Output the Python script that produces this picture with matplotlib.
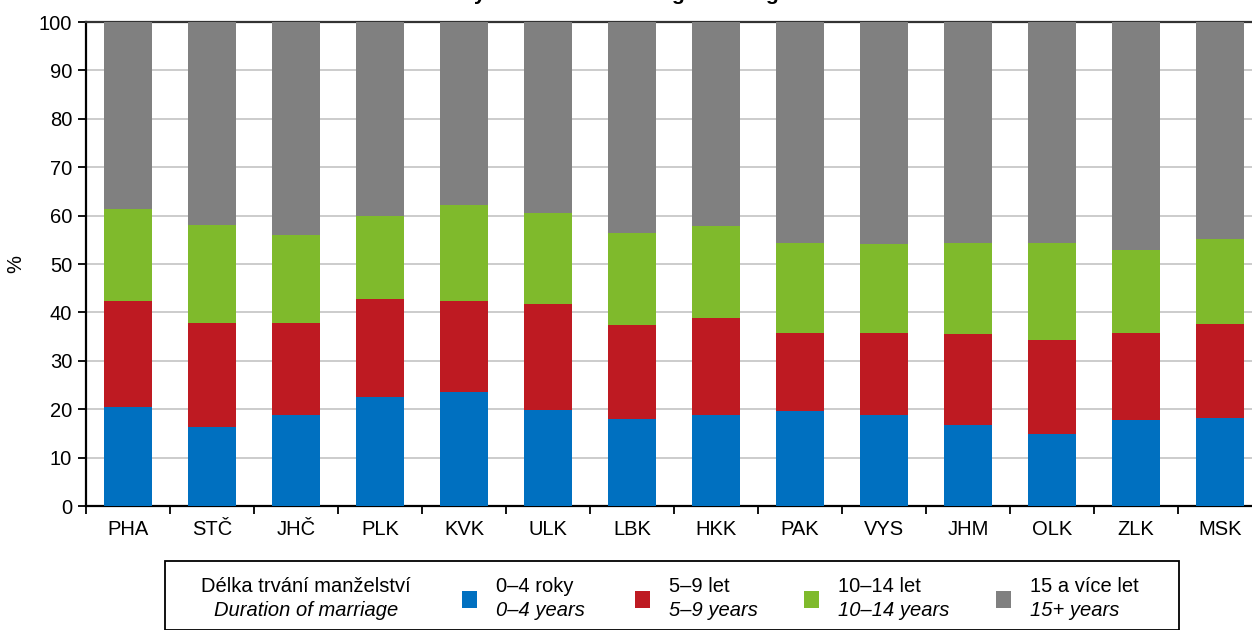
import matplotlib.pyplot as plt
from matplotlib.patches import Rectangle
import numpy as np

plt.rcParams['font.family'] = ['Liberation Sans', 'DejaVu Sans']

regions = ['PHA', 'STČ', 'JHČ', 'PLK', 'KVK', 'ULK', 'LBK', 'HKK', 'PAK', 'VYS', 'JHM', 'OLK', 'ZLK', 'MSK']
# kumulativni hranice usecek (%)
top_0_4 = [20.5, 16.3, 18.8, 22.5, 23.5, 19.8, 18.0, 18.8, 19.6, 18.8, 16.8, 14.9, 17.7, 18.2]
top_5_9 = [42.4, 37.8, 37.8, 42.8, 42.4, 41.7, 37.3, 38.9, 35.8, 35.8, 35.6, 34.4, 35.7, 37.7]
top_10_14 = [61.4, 58.1, 56.0, 59.9, 62.2, 60.5, 56.4, 57.9, 54.4, 54.1, 54.4, 54.3, 52.9, 55.2]

y_0_4 = np.array(top_0_4)
y_5_9 = np.array(top_5_9) - np.array(top_0_4)
y_10_14 = np.array(top_10_14) - np.array(top_5_9)
y_15 = 100 - np.array(top_10_14)

labels_cz = ['0–4 roky', '5–9 let', '10–14 let', '15 a více let']
labels_en = ['0–4 years', '5–9 years', '10–14 years', '15+ years']
colors = ['#0070C0', '#BE1A22', '#7FBA2C', '#808080']

W, H = 1252, 630
FS = 14.5
fig = plt.figure(figsize=(W / 100, H / 100), dpi=100)
ax = fig.add_axes([86 / W, 1 - 506 / H, (1262 - 86) / W, (506 - 22) / H])

x = np.arange(len(regions))
bottom = np.zeros(len(regions))
for vals, c in zip([y_0_4, y_5_9, y_10_14, y_15], colors):
    ax.bar(x, vals, 0.56, bottom=bottom, color=c, edgecolor='none', zorder=3)
    bottom = bottom + vals

ax.set_xlim(-0.5, len(regions) - 0.5)
ax.set_ylim(0, 100)
ax.set_yticks(range(0, 101, 10))
ax.yaxis.grid(True, color='#c8c8c8', linewidth=1.3, zorder=0)
ax.set_xticks(x)
ax.set_xticklabels(regions, fontsize=FS)
ax.set_xticks(np.arange(-0.5, len(regions), 1), minor=True)
ax.tick_params(axis='x', which='major', length=0, pad=10)
ax.tick_params(axis='x', which='minor', length=6, width=1.3, direction='out')
ax.tick_params(axis='y', length=6, width=1.3, direction='out', labelsize=FS, pad=4)
for s in ['left', 'bottom', 'top']:
    ax.spines[s].set_linewidth(1.6)
ax.spines['top'].set_color('#333333')
ax.spines['right'].set_visible(False)
ax.set_ylabel('%', fontsize=FS, labelpad=10)

# nadpis (v predloze oriznuty hornim okrajem)
fig.text(588 / W, 1 + 0.5 / H, 'Divorces by duration of marriage and region', ha='center', va='baseline',
         fontsize=15.2, fontweight='bold')

# legenda
fig.patches.append(Rectangle((165 / W, 0), (1179 - 165) / W, (H - 561) / H, transform=fig.transFigure,
                             facecolor='white', edgecolor='black', linewidth=1.3))
fig.text(306 / W, 1 - 587 / H, 'Délka trvání manželství', ha='center', va='center', fontsize=FS)
fig.text(306 / W, 1 - 611 / H, 'Duration of marriage', ha='center', va='center', fontsize=FS, style='italic')
marker_x = [462, 635, 804, 996]
for mx, c, lc, le in zip(marker_x, colors, labels_cz, labels_en):
    fig.patches.append(Rectangle((mx / W, 1 - 608 / H), 15 / W, 17 / H, transform=fig.transFigure,
                                 facecolor=c, edgecolor='none'))
    fig.text((mx + 34) / W, 1 - 587 / H, lc, ha='left', va='center', fontsize=FS)
    fig.text((mx + 34) / W, 1 - 611 / H, le, ha='left', va='center', fontsize=FS, style='italic')

fig.savefig('out.png', dpi=100)
